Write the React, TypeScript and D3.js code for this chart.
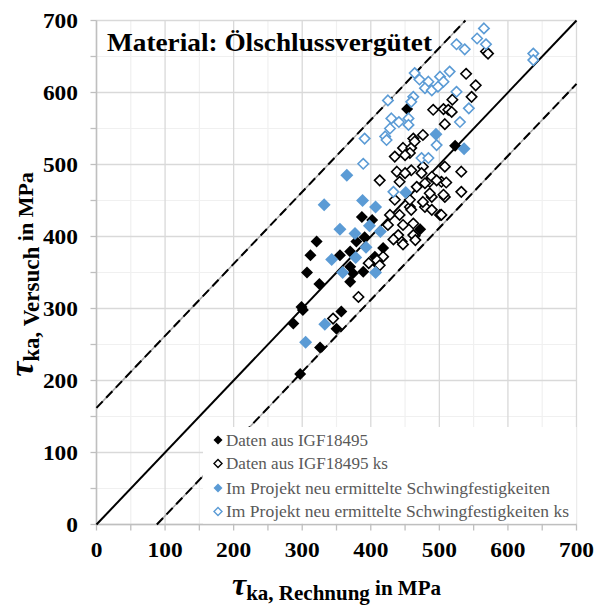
import React from "react";
import * as d3 from "d3";

// Daten aus IGF18495 (gefuellt, schwarz)
const igfX = [453, 523, 387, 402, 472, 321, 312, 307, 325, 355, 370, 379, 418, 374, 370, 389, 299, 301, 287, 357, 350, 326, 297, 406, 391, 370, 408];
const igfY = [577, 526, 427, 423, 410, 393, 374, 350, 334, 374, 379, 393, 384, 349, 337, 351, 302, 298, 279, 296, 272, 246, 209, 372, 399, 358, 363];

// Daten aus IGF18495 ks (offen, schwarz)
const igfKsX = [539, 553, 547, 519, 491, 506, 513, 518, 508, 568, 571, 462, 476, 447, 459, 464, 508, 532, 532, 457, 450, 459, 476, 486, 503, 489, 508, 479, 501, 457, 464, 445, 435, 413, 438, 450, 474, 489, 442, 467, 479, 496, 510, 486, 506, 435, 457, 476, 489, 503, 428, 442, 459, 425, 447, 462, 440, 462, 433, 447, 418, 409, 413, 397, 382, 345, 465];
const igfKsY = [626, 610, 594, 590, 576, 577, 576, 573, 556, 657, 654, 536, 541, 523, 523, 532, 497, 490, 462, 516, 513, 492, 497, 476, 476, 455, 455, 441, 430, 441, 401, 393, 511, 478, 490, 488, 488, 483, 476, 469, 474, 478, 475, 460, 458, 451, 451, 448, 437, 430, 430, 430, 437, 416, 416, 418, 402, 402, 396, 389, 372, 367, 360, 363, 316, 286, 395];

// Im Projekt neu ermittelte Schwingfestigkeiten (gefuellt, blau)
const projX = [495, 536, 451, 365, 332, 388, 407, 355, 377, 398, 414, 393, 343, 378, 359, 407, 333, 305];
const projY = [542, 522, 461, 485, 444, 450, 441, 410, 404, 415, 407, 385, 368, 371, 350, 350, 278, 253];

// Im Projekt neu ermittelte Schwingfestigkeiten ks (offen, blau)
const projKsX = [565, 555, 568, 525, 537, 637, 637, 464, 471, 501, 515, 484, 506, 479, 489, 498, 525, 425, 462, 459, 543, 430, 441, 455, 455, 428, 421, 423, 530, 496, 391, 389, 474, 484, 433];
const projKsY = [689, 675, 667, 667, 660, 654, 645, 627, 618, 622, 629, 615, 615, 606, 603, 608, 601, 589, 594, 587, 578, 564, 559, 564, 555, 550, 539, 534, 559, 527, 536, 501, 509, 509, 462];

const ticks = [0, 100, 200, 300, 400, 500, 600, 700];
const minorTicks = [50, 150, 250, 350, 450, 550, 650];

// Streubandgrenzen (y = x + Versatz)
const upperOffset = 162;
const lowerOffset = -88;

const legendLabels = [
  "Daten aus IGF18495",
  "Daten aus IGF18495 ks",
  "Im Projekt neu ermittelte Schwingfestigkeiten",
  "Im Projekt neu ermittelte Schwingfestigkeiten ks",
];
// Textbreiten der Legende wie im Original (Cambria ist breiter)
const legendWidths = [142, 162, 324, 343];

const BLUE = "#5b9bd5";
const FONT = "'Liberation Serif', 'DejaVu Serif', serif";

const diamond = (r: number) => `M0,${-r}L${r},0L0,${r}L${-r},0Z`;

const App = () => {
  const width = 595;
  const height = 606;
  const x = d3.scaleLinear().domain([0, 700]).range([96.5, 576.5]);
  const y = d3.scaleLinear().domain([0, 700]).range([524.5, 20.5]);

  const series = [
    { xs: igfX, ys: igfY, fill: "#000", stroke: "none", r: 6 },
    { xs: igfKsX, ys: igfKsY, fill: "#fff", stroke: "#000", r: 5.2 },
    { xs: projX, ys: projY, fill: BLUE, stroke: "none", r: 6.5 },
    { xs: projKsX, ys: projKsY, fill: "#fff", stroke: BLUE, r: 5.2 },
  ];

  const line = d3
    .line<[number, number]>()
    .x((d) => x(d[0]))
    .y((d) => y(d[1]));

  // Linie y = x + off, auf das Diagramm beschnitten
  const bandLine = (off: number): [number, number][] => {
    const x0 = Math.max(0, -off);
    const x1 = Math.min(700, 700 - off);
    return [
      [x0, x0 + off],
      [x1, x1 + off],
    ];
  };

  const legendX = 203;
  const legendY = 427;
  const legendRow = [440, 463.5, 488, 511.5];

  return (
    <svg width={width} height={height} style={{ position: "absolute", left: 0, top: 0 }}>
      <rect width={width} height={height} fill="#fff" />

      {/* Gitter */}
      {minorTicks.map((t) => (
        <g key={"m" + t}>
          <line x1={x(t)} x2={x(t)} y1={y(0)} y2={y(700)} stroke="#f0f0f0" strokeWidth={1.2} />
          <line x1={x(0)} x2={x(700)} y1={y(t)} y2={y(t)} stroke="#f0f0f0" strokeWidth={1.2} />
        </g>
      ))}
      {ticks.map((t) => (
        <g key={"g" + t}>
          <line x1={x(t)} x2={x(t)} y1={y(0)} y2={y(700)} stroke="#d9d9d9" strokeWidth={1.3} />
          <line x1={x(0)} x2={x(700)} y1={y(t)} y2={y(t)} stroke="#d9d9d9" strokeWidth={1.3} />
        </g>
      ))}

      {/* Achsen und Teilstriche */}
      <line x1={x(0)} x2={x(0)} y1={y(0)} y2={y(700)} stroke="#bfbfbf" strokeWidth={1.5} />
      <line x1={x(0)} x2={x(700)} y1={y(0)} y2={y(0)} stroke="#bfbfbf" strokeWidth={1.5} />
      {ticks.concat(minorTicks).map((t) => (
        <g key={"t" + t}>
          <line x1={x(0) - 6} x2={x(0)} y1={y(t)} y2={y(t)} stroke="#bfbfbf" strokeWidth={1.3} />
          <line x1={x(t)} x2={x(t)} y1={y(0)} y2={y(0) + 6} stroke="#bfbfbf" strokeWidth={1.3} />
        </g>
      ))}

      {/* Tick-Beschriftungen */}
      {ticks.map((t) => (
        <text
          key={"yl" + t}
          x={78}
          y={y(t)}
          dy="0.35em"
          textAnchor="end"
          fontFamily={FONT}
          fontWeight="bold"
          fontSize={21}
          textLength={String(t).length * 11.7}
          lengthAdjust="spacingAndGlyphs"
        >
          {t}
        </text>
      ))}
      {ticks.map((t) => (
        <text
          key={"xl" + t}
          x={x(t)}
          y={557}
          textAnchor="middle"
          fontFamily={FONT}
          fontWeight="bold"
          fontSize={21}
          textLength={String(t).length * 11.7}
          lengthAdjust="spacingAndGlyphs"
        >
          {t}
        </text>
      ))}

      {/* Diagonale und Streubandgrenzen */}
      <path d={line(bandLine(0)) || ""} stroke="#000" strokeWidth={2} fill="none" />
      {[upperOffset, lowerOffset].map((off) => (
        <g key={"b" + off}>
          <path d={line(bandLine(off)) || ""} stroke="#a6a6a6" strokeWidth={1.5} fill="none" />
          <path
            d={line(bandLine(off)) || ""}
            stroke="#000"
            strokeWidth={2}
            strokeDasharray="9,5"
            fill="none"
          />
        </g>
      ))}

      {/* Messpunkte */}
      {series.map((s, si) => (
        <g key={"s" + si}>
          {s.xs.map((v, i) => (
            <path
              key={i}
              d={diamond(s.r)}
              transform={`translate(${x(v)},${y(s.ys[i])})`}
              fill={s.fill}
              stroke={s.stroke}
              strokeWidth={1.6}
            />
          ))}
        </g>
      ))}

      {/* Titel */}
      <text
        x={107}
        y={51}
        fontFamily={FONT}
        fontWeight="bold"
        fontSize={25}
        textLength={325}
        lengthAdjust="spacingAndGlyphs"
      >
        Material: Ölschlussvergütet
      </text>

      {/* Legende */}
      <rect x={legendX} y={legendY} width={x(700) - legendX} height={y(0) - legendY - 1} fill="#fff" />
      {legendLabels.map((label, i) => (
        <g key={"l" + i}>
          <path
            d={diamond(i % 2 === 0 ? 4.5 : 4)}
            transform={`translate(218,${legendRow[i]})`}
            fill={series[i].fill}
            stroke={series[i].stroke}
            strokeWidth={1.4}
          />
          <text
            x={226}
            y={legendRow[i]}
            dy="0.35em"
            fontFamily={FONT}
            fontSize={16.5}
            fill="#595959"
            textLength={legendWidths[i]}
            lengthAdjust="spacingAndGlyphs"
          >
            {label}
          </text>
        </g>
      ))}

      {/* Achsentitel */}
      <text x={336.5} y={595} textAnchor="middle" fontFamily={FONT} fontWeight="bold">
        <tspan fontSize={32} fontStyle="italic">τ</tspan>
        <tspan fontSize={21} dy={5}>ka, Rechnung</tspan>
        <tspan fontSize={21} dy={-5}> in MPa</tspan>
      </text>
      <text
        transform={`translate(33,${(y(0) + y(700)) / 2 + 2}) rotate(-90)`}
        textAnchor="middle"
        fontFamily={FONT}
        fontWeight="bold"
      >
        <tspan fontSize={34} fontStyle="italic">τ</tspan>
        <tspan fontSize={23} dy={6}>ka, Versuch</tspan>
        <tspan fontSize={22} dy={-6}> in MPa</tspan>
      </text>
    </svg>
  );
};

export default App;
